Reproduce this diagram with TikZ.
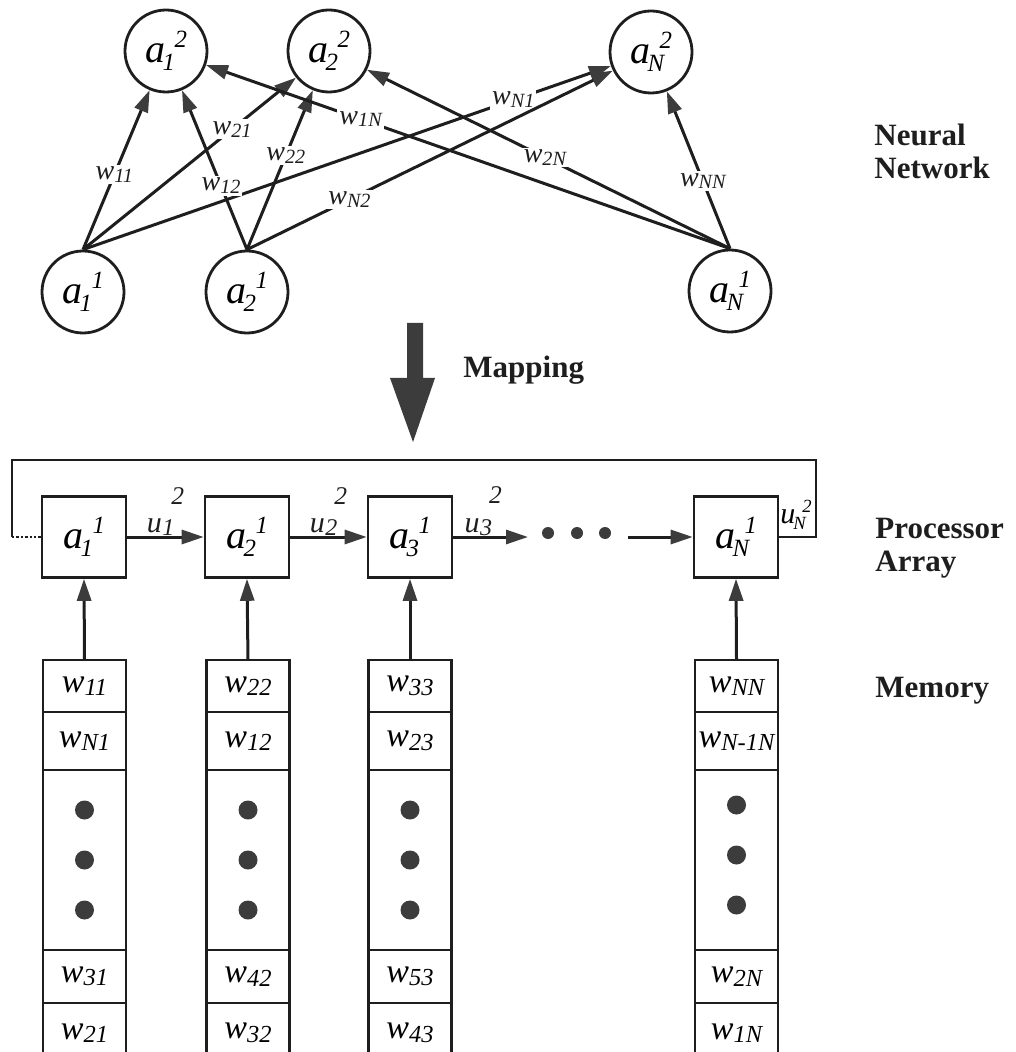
\documentclass[tikz,border=0pt]{standalone}
\usepackage{fontspec}
\setmainfont{Liberation Serif}
\usetikzlibrary{arrows.meta,positioning,calc}
\definecolor{nnink}{HTML}{1E1E1E}
\definecolor{nngray}{HTML}{3C3C3C}

% weight w_ij and activation a_i^l labels
\newcommand{\wlab}[1]{\textit{w}\raisebox{-0.1em}{\scalebox{0.72}{\itshape #1}}}
\newcommand{\alab}[3]{\textit{#1}\kern-0.06em\rlap{\raisebox{-0.2em}{\scalebox{0.62}{\itshape #2}}}\kern0.3em\raisebox{0.38em}{\scalebox{0.62}{\itshape #3}}}
\newcommand{\ulab}[2]{\textit{u}\kern0.02em\rlap{\raisebox{-0.1em}{\scalebox{0.8}{\itshape #1}}}\kern0.3em\raisebox{0.95em}{\scalebox{0.85}{\itshape #2}}}

\begin{document}
\begin{tikzpicture}[x=0.5pt, y=-0.5pt,
  neuron/.style={circle, draw=nnink, line width=1.4pt, minimum size=41pt, inner sep=0pt,
                 font=\fontsize{20}{20}\selectfont},
  procbox/.style={draw=nnink, line width=1.3pt, minimum width=42pt, minimum height=40.5pt,
                  inner sep=0pt, font=\fontsize{20}{20}\selectfont},
  memcell/.style={draw=nnink, line width=1.2pt, minimum width=41.5pt, inner sep=0pt,
                  outer sep=0pt, font=\fontsize{17}{17}\selectfont},
  arr/.style={-{Triangle[length=11pt, width=7pt, color=nngray]}, nnink, line width=1.5pt},
  wlbl/.style={fill=white, inner sep=1pt, font=\fontsize{14}{14}\selectfont},
  ulbl/.style={above=0pt, inner sep=0pt, font=\fontsize{15}{15}\selectfont},
  heading/.style={font=\fontsize{15.5}{16.5}\selectfont\bfseries, align=left,
                  inner sep=0pt, text=nnink},
]
\useasboundingbox (0,0) rectangle (1015,1052);

%% Neural network: layer 2 (top) and layer 1 (bottom)
\node[neuron] (top1) at (166,51)  {\alab{a}{1}{2}};
\node[neuron] (top2) at (329,51)  {\alab{a}{2}{2}};
\node[neuron] (topN) at (651,52)  {\alab{a}{N}{2}};
\node[neuron] (bot1) at (83,292)  {\alab{a}{1}{1}};
\node[neuron] (bot2) at (247,292) {\alab{a}{2}{1}};
\node[neuron] (botN) at (730,291) {\alab{a}{N}{1}};

%% Weighted connections
\draw[arr] (bot1.north) -- node[wlbl, pos=0.47]  {\wlab{11}} (top1);
\draw[arr] (bot1.north) -- node[wlbl, pos=0.70]  {\wlab{21}} (top2);
\draw[arr] (bot1.north) -- node[wlbl, pos=0.815] {\wlab{N1}} (topN);
\draw[arr] (bot2.north) -- node[wlbl, pos=0.40]  {\wlab{12}} (top1);
\draw[arr] (bot2.north) -- node[wlbl, pos=0.59]  {\wlab{22}} (top2);
\draw[arr] (bot2.north) -- node[wlbl, pos=0.28]  {\wlab{N2}} (topN);
\draw[arr] (botN.north) -- node[wlbl, pos=0.705] {\wlab{1N}} (top1);
\draw[arr] (botN.north) -- node[wlbl, pos=0.51]  {\wlab{2N}} (top2);
\draw[arr] (botN.north) -- node[wlbl, pos=0.43]  {\wlab{NN}} (topN);

\node[heading, anchor=north west] (nnlbl) at (874,124) {Neural\\Network};

%% Mapping arrow
\fill[nngray] (407,323) -- (423,323) -- (423,378) -- (435,378) -- (413,442)
  -- (390,378) -- (407,378) -- cycle;
\node[heading, anchor=base west] (maplbl) at (463,378) {Mapping};

%% Processor array
\node[procbox] (pe1) at (84,537)  {\alab{a}{1}{1}};
\node[procbox] (pe2) at (247,537) {\alab{a}{2}{1}};
\node[procbox] (pe3) at (410,537) {\alab{a}{3}{1}};
\node[procbox] (peN) at (736,537) {\alab{a}{N}{1}};

\coordinate (gapL) at (528,537);
\coordinate (gapR) at (628,537);
\coordinate (loopR) at (816,460);
\coordinate (loopL) at (12,460);

\draw[arr] (pe1) -- node[ulbl] {\ulab{1}{2}} (pe2);
\draw[arr] (pe2) -- node[ulbl] {\ulab{2}{2}} (pe3);
\draw[arr] (pe3.east) -- node[ulbl, pos=0.4] {\ulab{3}{2}} (gapL);
\fill[nngray] (548,533) circle (3pt) (577,533) circle (3pt) (605,533) circle (3pt);
\draw[arr] (gapR) -- (peN.west);

% feedback path
\draw[nnink, line width=1.4pt] (peN.east) -| (loopR) -- (loopL) -- (loopL |- pe1.west);
\draw[nnink, line width=1.2pt, densely dotted] (loopL |- pe1.west) -- (pe1.west);
\node[inner sep=0pt, anchor=south, font=\fontsize{15}{15}\selectfont] (uN) at (796,530) {\alab{u}{N}{2}};

\node[heading, anchor=north west] (palbl) at (875,518) {Processor\\Array};

%% Memory columns
\node[memcell, minimum height=26pt] (m1a) at (84.5,686) {\wlab{11}};
\node[memcell, minimum height=29pt, below=0pt of m1a] (m1b) {\wlab{N1}};
\node[memcell, minimum height=90pt, below=0pt of m1b] (m1c) {};
\node[memcell, minimum height=26.5pt, below=0pt of m1c] (m1d) {\wlab{31}};
\node[memcell, minimum height=30pt, below=0pt of m1d] (m1e) {\wlab{21}};

\node[memcell, minimum height=26pt] (m2a) at (248,686) {\wlab{22}};
\node[memcell, minimum height=29pt, below=0pt of m2a] (m2b) {\wlab{12}};
\node[memcell, minimum height=90pt, below=0pt of m2b] (m2c) {};
\node[memcell, minimum height=26.5pt, below=0pt of m2c] (m2d) {\wlab{42}};
\node[memcell, minimum height=30pt, below=0pt of m2d] (m2e) {\wlab{32}};

\node[memcell, minimum height=26pt] (m3a) at (410,686) {\wlab{33}};
\node[memcell, minimum height=29pt, below=0pt of m3a] (m3b) {\wlab{23}};
\node[memcell, minimum height=90pt, below=0pt of m3b] (m3c) {};
\node[memcell, minimum height=26.5pt, below=0pt of m3c] (m3d) {\wlab{53}};
\node[memcell, minimum height=30pt, below=0pt of m3d] (m3e) {\wlab{43}};

\node[memcell, minimum height=26pt] (mNa) at (736.5,686) {\wlab{NN}};
\node[memcell, minimum height=29pt, below=0pt of mNa] (mNb) {\wlab{N-1N}};
\node[memcell, minimum height=90pt, below=0pt of mNb] (mNc) {};
\node[memcell, minimum height=26.5pt, below=0pt of mNc] (mNd) {\wlab{2N}};
\node[memcell, minimum height=30pt, below=0pt of mNd] (mNe) {\wlab{1N}};

% dots in the middle cells
\fill[nngray] ($(m1c)+(0,-50)$) circle (4.75pt) (m1c) circle (4.75pt) ($(m1c)+(0,50)$) circle (4.75pt);
\fill[nngray] ($(m2c)+(0,-50)$) circle (4.75pt) (m2c) circle (4.75pt) ($(m2c)+(0,50)$) circle (4.75pt);
\fill[nngray] ($(m3c)+(0,-50)$) circle (4.75pt) (m3c) circle (4.75pt) ($(m3c)+(0,50)$) circle (4.75pt);
\fill[nngray] ($(mNc)+(0,-55)$) circle (4.75pt) ($(mNc)+(0,-5)$) circle (4.75pt) ($(mNc)+(0,45)$) circle (4.75pt);

% memory feeds processor
\draw[arr] (m1a.north) -- (pe1.south);
\draw[arr] (m2a.north) -- (pe2.south);
\draw[arr] (m3a.north) -- (pe3.south);
\draw[arr] (mNa.north) -- (peN.south);

\node[heading, anchor=base west] (memlbl) at (875,697) {Memory};

\end{tikzpicture}
\end{document}
